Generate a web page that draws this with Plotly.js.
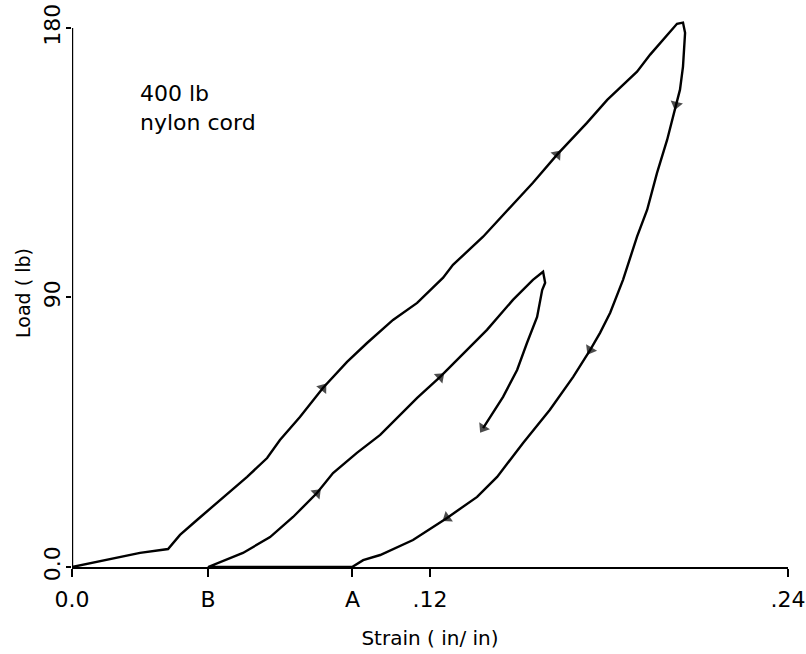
<!DOCTYPE html>
<html>
<head>
<meta charset="utf-8">
<script src="https://cdn.plot.ly/plotly-3.0.1.min.js"></script>
<style>html,body{margin:0;padding:0;background:#fff;}#chart{width:806px;height:654px;}</style>
</head>
<body>
<div id="chart"></div>
<script>
// Strain (in/in) and load (lb) along the recorded path: first cycle, recovery A->B, second cycle
var strain = [0, 0.0137, 0.0228, 0.0322, 0.0362, 0.0419, 0.0506, 0.0587, 0.0654, 0.0697, 0.0764, 0.0841,
  0.0922, 0.0989, 0.1076, 0.1157, 0.1244, 0.1277, 0.1378, 0.1478, 0.1545, 0.1626, 0.1726, 0.1794, 0.1894,
  0.1938, 0.1995, 0.2028, 0.2048, 0.2055, 0.2048, 0.2038, 0.2025, 0.1995, 0.1961, 0.1928, 0.1894, 0.1847,
  0.1804, 0.1770, 0.1737, 0.1680, 0.1602, 0.1512, 0.1425, 0.1358, 0.1257, 0.1143, 0.1033, 0.0976, 0.0939,
  0.0456, 0.0573, 0.0664, 0.0741, 0.0821, 0.0875, 0.0955, 0.1033, 0.1157, 0.1234, 0.1324, 0.1391, 0.1478,
  0.1545, 0.1579, 0.1586, 0.1576, 0.1559, 0.1525, 0.1492, 0.1445, 0.1411, 0.1378];
var load = [0, 2.7, 4.7, 6.0, 10.7, 15.7, 23.1, 30.1, 36.4, 42.4, 50.1, 59.8,
  68.5, 74.8, 82.5, 88.2, 96.6, 100.9, 110.3, 120.9, 128.3, 137.7, 148.3, 156.0, 165.4,
  171.1, 177.7, 181.4, 181.8, 178.4, 167.1, 159.4, 154.4, 142.7, 131.6, 119.3, 110.3, 95.9,
  84.9, 78.2, 72.5, 63.5, 52.5, 41.4, 30.1, 23.4, 16.4, 9.0, 4.0, 2.3, 0,
  0, 4.7, 10.0, 16.7, 24.7, 31.4, 38.1, 44.1, 56.5, 63.5, 72.5, 79.2, 89.2,
  95.9, 98.6, 94.9, 92.5, 83.5, 74.8, 65.8, 56.8, 51.5, 46.4];
// indices of path points where direction arrows are drawn
var arrowAt = [11, 21, 32, 40, 46, 55, 60, 73];

var xTickVals = [0, 0.0456, 0.094, 0.12, 0.24];
var xTickText = ['0.0', 'B', 'A', '.12', '.24'];
var yTickVals = [0, 90, 180];
var yTickText = ['0.0', '90', '180'];

var sizes = strain.map(function (_, i) { return arrowAt.indexOf(i) >= 0 ? 11 : 0; });

var FONT = 'DejaVu Sans, sans-serif';
var trace = {
  x: strain, y: load, type: 'scatter', mode: 'lines+markers',
  line: {color: '#000', width: 2.4},
  marker: {symbol: 'triangle-up', size: sizes, color: '#000', angleref: 'previous', line: {width: 0}},
  hoverinfo: 'none', showlegend: false
};

var layout = {
  width: 806, height: 654,
  margin: {l: 72, r: 18, t: 19, b: 87},
  paper_bgcolor: '#fff', plot_bgcolor: '#fff',
  font: {family: FONT, color: '#000', size: 20},
  xaxis: {
    range: [0, 0.24], tickvals: xTickVals, ticktext: xTickText,
    showgrid: false, zeroline: false, showline: true, linecolor: '#000', linewidth: 2.4,
    ticks: 'outside', ticklen: 8, tickwidth: 2, tickcolor: '#000', ticklabelstandoff: 3,
    tickfont: {family: FONT, size: 22, color: '#000'},
    title: {text: 'Strain ( in/ in)', font: {family: FONT, size: 20, color: '#000'}, standoff: 20}
  },
  yaxis: {
    range: [0, 183], tickvals: yTickVals, ticktext: yTickText, tickangle: -90,
    showgrid: false, zeroline: false, showline: false,
    ticks: 'outside', ticklen: 5, tickwidth: 2, tickcolor: '#000', ticklabelstandoff: -3,
    tickfont: {family: FONT, size: 22, color: '#000'},
    title: {text: 'Load ( lb)', font: {family: FONT, size: 19, color: '#000'}, standoff: 4}
  },
  shapes: [{type: 'line', xref: 'x', yref: 'y', x0: 0, x1: 0, y0: 0, y1: 180,
    line: {color: '#000', width: 2.4}}],
  annotations: [{
    xref: 'paper', yref: 'paper', x: 0.092, y: 0.89, xanchor: 'left', yanchor: 'top',
    align: 'left', showarrow: false, text: '400 lb<br>nylon cord',
    font: {family: FONT, size: 22, color: '#000'}
  }]
};

Plotly.newPlot('chart', [trace], layout, {staticPlot: true, displayModeBar: false});
</script>
</body>
</html>
